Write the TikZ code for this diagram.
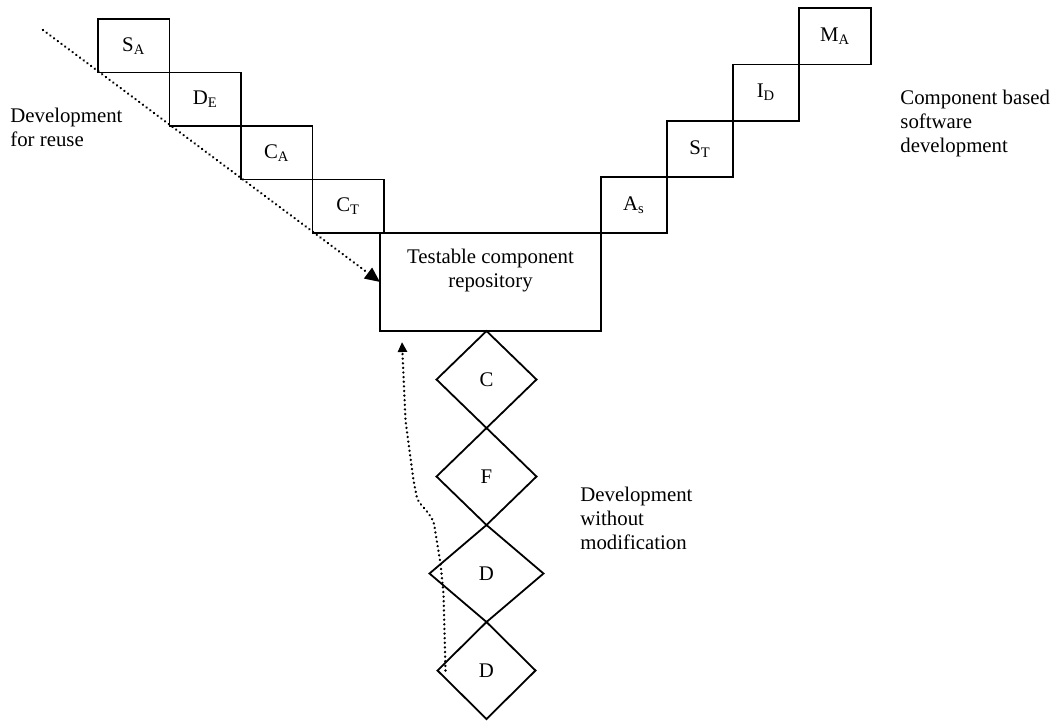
\documentclass[tikz,border=0pt]{standalone}
\usepackage{fontspec}
\setmainfont{Liberation Serif}
\usetikzlibrary{arrows.meta,positioning,shapes.geometric}

\begin{document}
\begin{tikzpicture}[
    font=\fontsize{10.4pt}{12pt}\selectfont,
    stage/.style={draw,line width=0.9pt,minimum width=35.75pt,
      minimum height=26.75pt,inner sep=0pt,outer sep=0pt},
    usestage/.style={stage,minimum width=33pt,minimum height=28.1pt},
    gate/.style={draw,diamond,line width=0.9pt,minimum width=50pt,
      minimum height=48.5pt,inner sep=0pt,outer sep=0pt,anchor=north},
    reuseflow/.style={line width=1.3pt,line cap=round,dash pattern=on 0.01pt off 2.3pt,
      -{Triangle[length=7.5pt,width=6.5pt]}},
    note/.style={align=left,inner sep=0pt,anchor=north west}
  ]
    \useasboundingbox (0,0) rectangle (526.5pt,-362.5pt);
    % development for reuse
    \node[stage,anchor=north west] (sa) at (49pt,-9.5pt) {S\textsubscript{A}};
    \node[stage,anchor=north west] (de) at (sa.south east) {D\textsubscript{E}};
    \node[stage,anchor=north west] (ca) at (de.south east) {C\textsubscript{A}};
    \node[stage,anchor=north west] (ct) at (ca.south east) {C\textsubscript{T}};
    \node[draw,line width=0.9pt,minimum width=110.5pt,minimum height=49pt,
      outer sep=0pt,anchor=north west] (repo) at ([xshift=-2pt]ct.south east) {};
    \node[below=8pt of repo.north,inner sep=0pt,align=center] (repotext)
      {Testable component\\repository};
    % component based development
    \node[usestage,anchor=south west] (as) at (repo.north east) {A\textsubscript{s}};
    \node[usestage,anchor=south west] (st) at (as.north east) {S\textsubscript{T}};
    \node[usestage,anchor=south west] (id) at (st.north east) {I\textsubscript{D}};
    \node[usestage,anchor=south west,minimum width=36pt] (ma) at (id.north east)
      {M\textsubscript{A}};
    % development without modification
    \node[gate] (c) at ([xshift=-2pt]repo.south) {C};
    \node[gate] (f) at (c.south) {F};
    \node[gate,minimum width=57pt] (d1) at (f.south) {D};
    \node[gate,minimum width=49pt] (d2) at (d1.south) {D};

    \node[note] (reuse) at (5pt,-54pt) {Development\\for reuse};
    \node[note] (cbsd) at (450pt,-45pt) {Component based\\software\\development};
    \node[note] (nomod) at (290pt,-243.5pt) {Development\\without\\modification};

    \coordinate (reusestart) at (21.5pt,-15pt);
    \draw[reuseflow] (reusestart) -- (repo.west);
    \coordinate (backstart) at ([xshift=4pt]d2.west);
    \coordinate (backend) at ([shift={(11pt,-5.5pt)}]repo.south west);
    \draw[reuseflow,-{Triangle[length=5pt,width=4.5pt]},rounded corners=2pt]
      (backstart) -- ++(-1pt,38.5pt) -- ++(-1.5pt,15pt) -- ++(-3.5pt,21.5pt)
      -- ++(-4pt,5.5pt) -- ++(-4pt,4.5pt) -- ++(-2pt,10pt) -- ++(-4pt,30pt)
      -- (backend);
  \end{tikzpicture}
\end{document}
